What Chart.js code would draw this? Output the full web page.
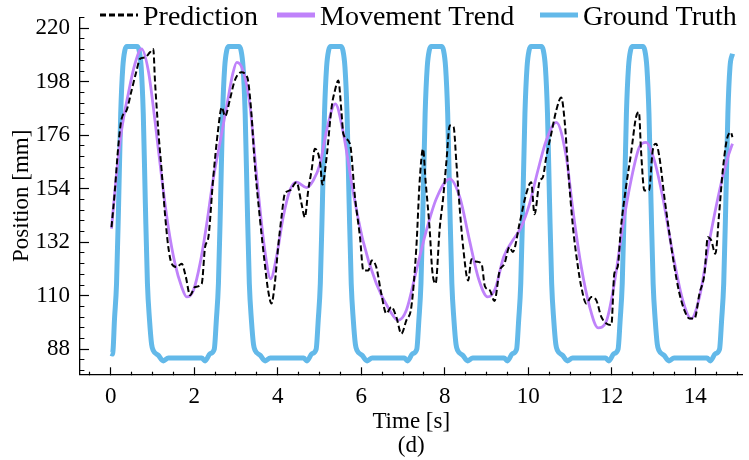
<!DOCTYPE html>
<html>
<head>
<meta charset="utf-8">
<script src="https://cdn.jsdelivr.net/npm/chart.js@4.4.1/dist/chart.umd.min.js"></script>
<style>
  html, body { margin: 0; padding: 0; background: #fff; }
  canvas { display: block; }
</style>
</head>
<body>
<canvas id="chart" width="749" height="460"></canvas>
<script>
// values (time in s, position in mm)
const predTime = [0.02, 0.10, 0.18, 0.26, 0.38, 0.50, 0.62, 0.70, 0.82, 0.94, 1.02, 1.06, 1.14, 1.22, 1.30, 1.38, 1.46, 1.58, 1.70, 1.80,
  1.90, 2.02, 2.18, 2.26, 2.34, 2.45, 2.57, 2.66, 2.74, 2.85, 2.97, 3.13, 3.25, 3.29, 3.37, 3.45, 3.57, 3.69, 3.77, 3.85,
  3.93, 4.01, 4.09, 4.17, 4.29, 4.45, 4.57, 4.65, 4.73, 4.81, 4.89, 5.01, 5.07, 5.17, 5.29, 5.37, 5.45, 5.53, 5.57, 5.73,
  5.85, 5.97, 6.05, 6.17, 6.25, 6.36, 6.48, 6.60, 6.72, 6.84, 6.96, 7.08, 7.20, 7.32, 7.40, 7.48, 7.54, 7.64, 7.70, 7.78,
  7.88, 7.96, 8.04, 8.12, 8.21, 8.28, 8.36, 8.44, 8.56, 8.64, 8.76, 8.88, 8.96, 9.08, 9.19, 9.31, 9.43, 9.55, 9.63, 9.79,
  9.95, 10.07, 10.15, 10.27, 10.35, 10.43, 10.55, 10.67, 10.79, 10.87, 10.95, 11.07, 11.19, 11.27, 11.39, 11.51, 11.63, 11.75, 11.87, 11.99,
  12.06, 12.14, 12.22, 12.34, 12.46, 12.58, 12.65, 12.70, 12.78, 12.89, 12.98, 13.06, 13.14, 13.26, 13.38, 13.50, 13.62, 13.74, 13.86, 13.98,
  14.10, 14.22, 14.30, 14.38, 14.48, 14.57, 14.65, 14.75, 14.85, 14.89];
const predPos = [138.2, 153.3, 171.1, 182.7, 186.2, 194.4, 202.6, 207.4, 208, 210.1, 211.5, 198.5, 177.9, 161.5, 143.7, 130, 123.2, 121.8, 123.2, 117.7,
  110.2, 113.6, 115, 130, 134.1, 157.4, 177.9, 187.5, 183.8, 190.3, 198.5, 201.9, 200.5, 198.5, 184.8, 164.3, 142.3, 123.2, 112.2, 106.8,
  115, 130, 142.3, 151.9, 153.3, 156.7, 147.8, 142.3, 153.3, 161.5, 170.4, 165.3, 155.7, 166.9, 187.5, 194.4, 198.5, 184.8, 176.6, 172.5,
  150.5, 134.1, 120.4, 120.4, 124.5, 121.8, 110.9, 102.7, 105.4, 101.3, 94.4, 99.9, 105.4, 130, 157.4, 170.4, 157.4, 136.9, 120.4, 115,
  138, 150, 165.3, 180, 179.5, 164.3, 145.5, 130, 116.3, 125, 124, 123.2, 114, 112.2, 107.8, 120, 123.2, 130, 128, 139.6,
  151.9, 156.7, 143.5, 157, 158.8, 167, 176.6, 186.2, 191.5, 182, 162.9, 138.2, 121.8, 113.6, 106.8, 109.5, 108.1, 101.3, 98.6, 98,
  119.1, 121.8, 138.2, 154.7, 168.4, 183.4, 185.5, 169.7, 153.3, 153.3, 169.7, 172.5, 167, 150.5, 135.5, 121.8, 110.9, 104, 100.6, 100.6,
  110.9, 119.1, 134.1, 132.8, 127.3, 143.7, 160.2, 173.8, 177.2, 175.2];

const trendTime = [0.02, 0.14, 0.26, 0.42, 0.58, 0.74, 0.90, 1.06, 1.22, 1.38, 1.54, 1.70, 1.82, 1.98, 2.14, 2.30, 2.45, 2.65, 2.81, 2.92,
  3.02, 3.17, 3.33, 3.49, 3.69, 3.83, 3.97, 4.13, 4.29, 4.45, 4.69, 4.85, 5.01, 5.17, 5.38, 5.56, 5.80, 6.04, 6.36, 6.68,
  6.88, 7.08, 7.32, 7.56, 7.80, 8.12, 8.36, 8.59, 8.81, 9.03, 9.21, 9.41, 9.63, 9.83, 10.03, 10.23, 10.43, 10.67, 10.91, 11.07,
  11.27, 11.47, 11.67, 11.87, 12.06, 12.26, 12.46, 12.66, 12.82, 13.02, 13.22, 13.46, 13.70, 13.90, 14.10, 14.34, 14.58, 14.78, 14.89];
const trendPos = [137.6, 160.2, 177.9, 193, 205.3, 211.5, 202.6, 182, 158.8, 138.2, 123.2, 113.6, 109.5, 112.2, 123.2, 139.6, 157.4, 176, 191, 201,
  206, 202.6, 188.9, 160.1, 128.7, 117, 125.9, 142.3, 153.3, 156.7, 154.5, 157.4, 164, 177.9, 188.9, 177.9, 153.3, 132.8, 115, 104,
  99.9, 104, 120.4, 136.9, 150, 158.1, 150.5, 133, 117, 109.5, 113, 125.9, 132.8, 138.2, 147.8, 161.5, 173.8, 181.3, 167, 145.1,
  121.8, 105.4, 96.8, 99.5, 115, 138.2, 157.4, 171.1, 173.1, 165.6, 150.5, 127.3, 108.1, 100.6, 109.5, 132.8, 153.3, 167, 172.5];

const gtTime = [0.00, 0.04, 0.06, 0.09, 0.14, 0.19, 0.24, 0.29, 0.34, 0.39, 0.63, 0.68, 0.73, 0.78, 0.83, 0.88, 0.93, 0.98, 1.02, 1.14, 1.26, 1.38,
  2.18, 2.26, 2.38, 2.48, 2.53, 2.58, 2.63, 2.68, 2.73, 2.78, 2.83, 3.07, 3.12, 3.17, 3.22, 3.27, 3.32, 3.37, 3.42, 3.46, 3.58, 3.70, 3.82,
  4.62, 4.70, 4.82, 4.92, 4.97, 5.02, 5.07, 5.12, 5.17, 5.22, 5.27, 5.51, 5.56, 5.61, 5.66, 5.71, 5.76, 5.81, 5.86, 5.90, 6.02, 6.14, 6.26,
  7.03, 7.11, 7.23, 7.33, 7.38, 7.43, 7.48, 7.53, 7.58, 7.63, 7.68, 7.92, 7.97, 8.02, 8.07, 8.12, 8.17, 8.22, 8.27, 8.31, 8.43, 8.55, 8.67,
  9.42, 9.50, 9.62, 9.72, 9.77, 9.82, 9.87, 9.92, 9.97, 10.02, 10.07, 10.31, 10.36, 10.41, 10.46, 10.51, 10.56, 10.61, 10.66, 10.70, 10.82, 10.94, 11.06,
  11.85, 11.93, 12.05, 12.15, 12.20, 12.25, 12.30, 12.35, 12.40, 12.45, 12.50, 12.74, 12.79, 12.84, 12.89, 12.94, 12.99, 13.04, 13.09, 13.13, 13.25, 13.37, 13.49,
  14.28, 14.36, 14.48, 14.58, 14.63, 14.68, 14.73, 14.78, 14.83, 14.89];
const gtPos = [86.3, 86.0, 88.5, 100, 115, 148, 185, 204, 211, 212.5, 212.5, 211, 204, 185, 148, 115, 100, 90, 87.5, 85.5, 83.2, 84.4,
  84.4, 83.2, 86.2, 88, 100, 115, 148, 185, 204, 211, 212.5, 212.5, 211, 204, 185, 148, 115, 100, 90, 87.5, 85.5, 83.2, 84.4,
  84.4, 83.2, 86.2, 88, 100, 115, 148, 185, 204, 211, 212.5, 212.5, 211, 204, 185, 148, 115, 100, 90, 87.5, 85.5, 83.2, 84.4,
  84.4, 83.2, 86.2, 88, 100, 115, 148, 185, 204, 211, 212.5, 212.5, 211, 204, 185, 148, 115, 100, 90, 87.5, 85.5, 83.2, 84.4,
  84.4, 83.2, 86.2, 88, 100, 115, 148, 185, 204, 211, 212.5, 212.5, 211, 204, 185, 148, 115, 100, 90, 87.5, 85.5, 83.2, 84.4,
  84.4, 83.2, 86.2, 88, 100, 115, 148, 185, 204, 211, 212.5, 212.5, 211, 204, 185, 148, 115, 100, 90, 87.5, 85.5, 83.2, 84.4,
  84.4, 83.2, 86.2, 88, 100, 115, 148, 185, 204, 209.5];

const xTickLabels = [0, 2, 4, 6, 8, 10, 12, 14];
const yTickLabels = [88, 110, 132, 154, 176, 198, 220];
const seriesNames = ["Prediction", "Movement Trend", "Ground Truth"];

const FONT = '"Liberation Serif", "Times New Roman", serif';
const BLUE = "#63b9e9";
const PURPLE = "#bf82fa";

function points(xs, ys) {
  return xs.map((x, i) => ({ x: x, y: ys[i] }));
}

// minor ticks every 0.5 s and 4.4 mm, majors get a label
function xTicks() {
  const out = [];
  for (let k = -1; k <= 30; k++) out.push(k * 0.5);
  return out;
}
function yTicks() {
  const out = [];
  for (let k = 18; k <= 51; k++) out.push(Math.round(k * 44) / 10);
  return out;
}

// scales reserve room for their end labels; the layout padding handles it instead
function noEdgePadding(s) {
  s.paddingTop = 0;
  s.paddingBottom = 0;
  s.paddingLeft = 0;
  s.paddingRight = 0;
}

const legendRow = {
  id: "legendRow",
  afterDraw(chart) {
    const c = chart.ctx;
    const spots = [100, 277, 540];
    const widths = [3, 5, 5];
    c.save();
    chart.data.datasets.forEach((ds, i) => {
      const x = spots[i];
      c.beginPath();
      c.strokeStyle = ds.borderColor;
      c.lineWidth = widths[i];
      c.setLineDash(ds.borderDash || []);
      c.moveTo(x, 15);
      c.lineTo(x + 38, 15);
      c.stroke();
      c.setLineDash([]);
      c.fillStyle = "#000";
      c.font = "28px " + FONT;
      c.textBaseline = "alphabetic";
      c.fillText(ds.label, x + 43, 24.5);
    });
    c.restore();
  }
};

new Chart(document.getElementById("chart"), {
  type: "line",
  data: {
    datasets: [
      {
        label: seriesNames[0],
        data: points(predTime, predPos),
        borderColor: "#000",
        borderWidth: 2,
        borderDash: [6, 3],
        pointRadius: 0,
        cubicInterpolationMode: "monotone"
      },
      {
        label: seriesNames[1],
        data: points(trendTime, trendPos),
        borderColor: PURPLE,
        borderWidth: 2.8,
        pointRadius: 0,
        cubicInterpolationMode: "monotone"
      },
      {
        label: seriesNames[2],
        data: points(gtTime, gtPos),
        borderColor: BLUE,
        borderWidth: 5,
        borderJoinStyle: "round",
        pointRadius: 0,
        cubicInterpolationMode: "monotone"
      }
    ]
  },
  options: {
    responsive: false,
    animation: false,
    layout: { padding: { top: 17.3, right: 6.5, bottom: 0, left: 0 } },
    plugins: { legend: { display: false }, tooltip: { enabled: false } },
    scales: {
      x: {
        type: "linear",
        min: -0.735,
        max: 15.13,
        afterBuildTicks: s => { s.ticks = xTicks().map(v => ({ value: v })); },
        afterFit: s => { s.height = 85.7; noEdgePadding(s); },
        border: { display: true, color: "#000", width: 1.3 },
        grid: {
          display: true,
          drawOnChartArea: false,
          drawTicks: true,
          tickLength: -7,
          tickColor: "#000",
          tickWidth: 1.2,
          tickBorderDash: ctx => xTickLabels.includes(ctx.tick.value) ? [] : [3.6, 30]
        },
        ticks: {
          autoSkip: false,
          maxRotation: 0,
          padding: 16,
          color: "#000",
          font: { family: FONT, size: 23 },
          callback: v => xTickLabels.includes(v) ? String(v) : ""
        },
        title: {
          display: true,
          text: ["Time [s]", "(d)"],
          color: "#000",
          font: { family: FONT, size: 23, lineHeight: 1.05 },
          padding: { top: 0, bottom: 1.5 }
        }
      },
      y: {
        type: "linear",
        min: 77.7,
        max: 224.5,
        afterBuildTicks: s => { s.ticks = yTicks().map(v => ({ value: v })); },
        afterFit: s => { s.width = 80; noEdgePadding(s); },
        border: { display: true, color: "#000", width: 1.3 },
        grid: {
          display: true,
          drawOnChartArea: false,
          drawTicks: true,
          tickLength: -9,
          tickColor: "#000",
          tickWidth: 1.2,
          tickBorderDash: ctx => yTickLabels.includes(ctx.tick.value) ? [] : [0, 4.6, 5.5, 30]
        },
        ticks: {
          autoSkip: false,
          padding: 19,
          color: "#000",
          font: { family: FONT, size: 23 },
          callback: v => yTickLabels.includes(v) ? String(v) : ""
        },
        title: {
          display: true,
          text: "Position [mm]",
          color: "#000",
          font: { family: FONT, size: 23 },
          padding: { top: 8, bottom: 0 }
        }
      }
    }
  },
  plugins: [legendRow]
});
</script>
</body>
</html>
